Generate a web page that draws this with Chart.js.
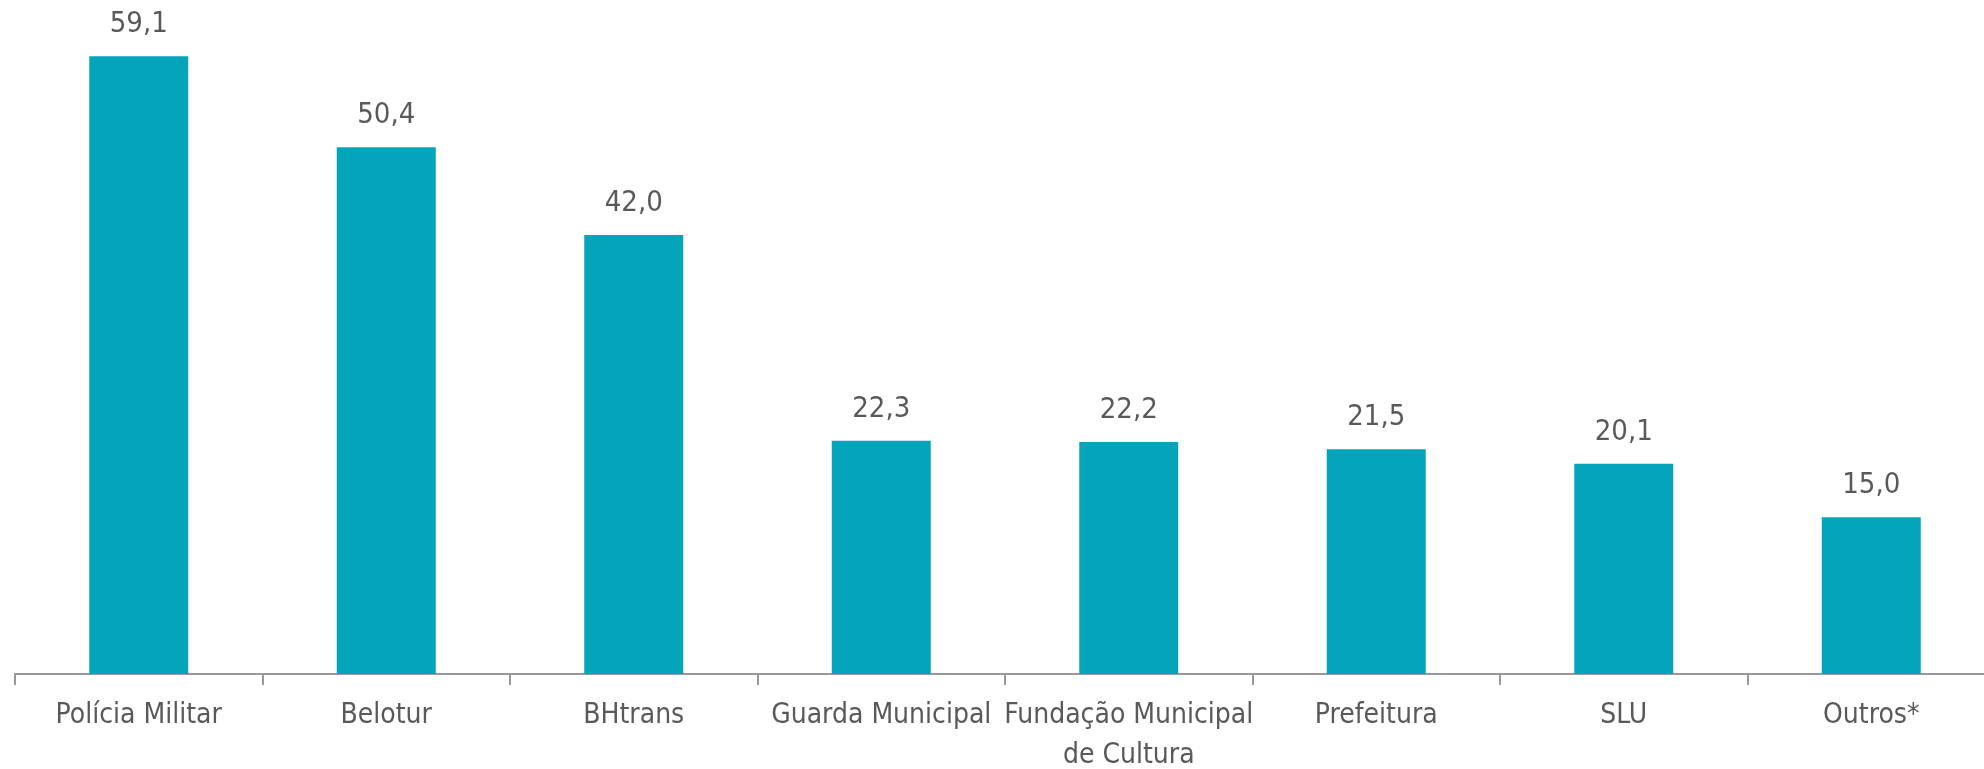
<!DOCTYPE html>
<html>
<head>
<meta charset="utf-8">
<script src="https://cdn.jsdelivr.net/npm/chart.js@4/dist/chart.umd.min.js"></script>
<style>
  html, body { margin: 0; padding: 0; overflow: hidden; background: #fff; }
  #wrap { width: 1995px; height: 787px; position: relative; }
</style>
</head>
<body>
<div id="wrap"><canvas id="chart"></canvas></div>
<script>
// dados
var categorias = ["Polícia Militar", "Belotur", "BHtrans", "Guarda Municipal", ["Fundação Municipal", "de Cultura"], "Prefeitura", "SLU", "Outros*"];
var valores = [59.1, 50.4, 42.0, 22.3, 22.2, 21.5, 20.1, 15.0];

var fonte = "'Liberation Sans Narrow', 'DejaVu Sans Condensed', sans-serif";
var cinza = "#595959";

// rótulos em cima das barras
var rotulos = {
  id: "rotulos",
  afterDatasetsDraw: function(chart) {
    var ctx = chart.ctx;
    var meta = chart.getDatasetMeta(0);
    ctx.save();
    ctx.font = "29px " + fonte;
    ctx.fillStyle = cinza;
    ctx.textAlign = "center";
    ctx.textBaseline = "bottom";
    meta.data.forEach(function(bar, i) {
      var txt = valores[i].toFixed(1).replace(".", ",");
      ctx.fillText(txt, bar.x, bar.y - 17);
    });
    ctx.restore();
  }
};

new Chart(document.getElementById("chart"), {
  type: "bar",
  data: {
    labels: categorias,
    datasets: [{
      data: valores,
      backgroundColor: "#04A4BA",
      barPercentage: 0.4,
      categoryPercentage: 1.0
    }]
  },
  options: {
    responsive: true,
    maintainAspectRatio: false,
    animation: false,
    layout: { padding: { top: 5, left: 15, right: 0, bottom: 0 } },
    plugins: { legend: { display: false }, tooltip: { enabled: false } },
    scales: {
      x: {
        grid: { display: true, drawOnChartArea: false, tickLength: 11, color: "#999999", lineWidth: 2, offset: true },
        border: { display: true, color: "#999999", width: 2 },
        ticks: { color: cinza, font: { family: fonte, size: 28, lineHeight: 1.43 }, padding: 11, maxRotation: 0, autoSkip: false }
      },
      y: {
        display: false,
        min: 0,
        max: 64
      }
    }
  },
  plugins: [rotulos]
});
</script>
</body>
</html>
